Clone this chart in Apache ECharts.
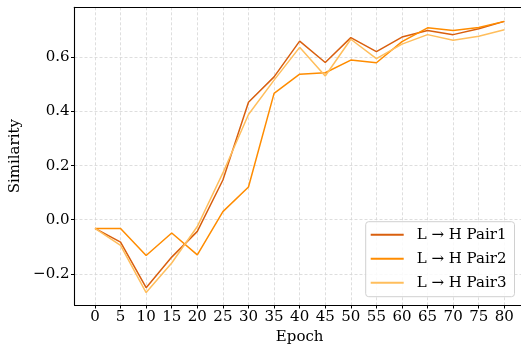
<!DOCTYPE html>
<html>
<head>
<meta charset="utf-8">
<script src="https://cdn.jsdelivr.net/npm/echarts@6/dist/echarts.min.js"></script>
<style>html,body{margin:0;padding:0;background:#fff}#c{width:521px;height:347px}</style>
</head>
<body>
<div id="c"></div>
<script>
const epochs = [0,5,10,15,20,25,30,35,40,45,50,55,60,65,70,75,80];
const pair1 = [-0.032,-0.083,-0.251,-0.138,-0.043,0.147,0.434,0.528,0.660,0.581,0.673,0.621,0.675,0.699,0.684,0.706,0.733];
const pair2 = [-0.032,-0.032,-0.132,-0.049,-0.130,0.030,0.121,0.467,0.538,0.543,0.590,0.580,0.658,0.709,0.699,0.710,0.733];
const pair3 = [-0.032,-0.095,-0.269,-0.160,-0.025,0.173,0.389,0.516,0.637,0.531,0.667,0.595,0.649,0.684,0.663,0.678,0.702];
const seriesNames = ['L → H Pair1','L → H Pair2','L → H Pair3'];
const colors = ['#d95f0e','#ff8c00','#ffbe5c'];
const xTicks = [0,5,10,15,20,25,30,35,40,45,50,55,60,65,70,75,80];
const yTicks = [-0.2,0,0.2,0.4,0.6];

const font = 'DejaVu Serif';
const chart = echarts.init(document.getElementById('c'));
const mk = (name, vals, color) => ({
  name, type: 'line', xAxisIndex: 0, yAxisIndex: 0, data: epochs.map((e,i)=>[e, vals[i]]),
  symbol: 'none', lineStyle: {width: 1.5, color}, itemStyle: {color}, animation: false
});
const gridLine = {show: true, lineStyle: {color: '#d6d6d6', type: [3,2], width: 0.8}};
chart.setOption({
  animation: false,
  grid: {left: 74.5, top: 7.3, right: -3.8, bottom: 42, show: false, containLabel: false, outerBoundsMode: 'none'},
  xAxis: [{
    type: 'value', min: -4, max: 84,
    name: 'Epoch', nameLocation: 'middle', nameGap: 22,
    nameTextStyle: {fontFamily: font, fontSize: 15, color: '#000'},
    axisLine: {show: true, onZero: false, lineStyle: {color: '#000', width: 1.1}},
    axisTick: {show: true, length: 3.5, customValues: xTicks, lineStyle: {color: '#000', width: 1}},
    axisLabel: {customValues: xTicks, fontFamily: font, fontSize: 15, color: '#000', margin: 5},
    splitLine: gridLine
  }, {
    type: 'value', min: -4, max: 84, position: 'top',
    axisLine: {show: true, onZero: false, lineStyle: {color: '#000', width: 1.1}},
    axisTick: {show: false}, axisLabel: {show: false}, splitLine: {show: false}
  }],
  yAxis: {
    type: 'value', min: -0.315, max: 0.785,
    name: 'Similarity', nameLocation: 'middle', nameGap: 44,
    nameTextStyle: {fontFamily: font, fontSize: 15, color: '#000'},
    axisLine: {show: true, onZero: false, lineStyle: {color: '#000', width: 1.1}},
    axisTick: {show: true, length: 3.5, customValues: yTicks, lineStyle: {color: '#000', width: 1}},
    axisLabel: {customValues: yTicks, fontFamily: font, fontSize: 15, color: '#000', margin: 5,
      formatter: v => v.toFixed(1).replace('-', '\u2212')},
    splitLine: gridLine
  },
  legend: {
    orient: 'vertical', left: 365.7, top: 221.7,
    data: seriesNames,
    icon: 'rect', itemWidth: 33, itemHeight: 2, itemGap: 8,
    padding: [5, 8, 6, 5],
    backgroundColor: 'rgba(255,255,255,0.85)', borderColor: '#d0d0d0', borderWidth: 1, borderRadius: 3,
    textStyle: {fontFamily: font, fontSize: 15, color: '#000', lineHeight: 16, padding: [0,0,0,8]}
  },
  series: [mk(seriesNames[0], pair1, colors[0]), mk(seriesNames[1], pair2, colors[1]), mk(seriesNames[2], pair3, colors[2])]
});
</script>
</body>
</html>
